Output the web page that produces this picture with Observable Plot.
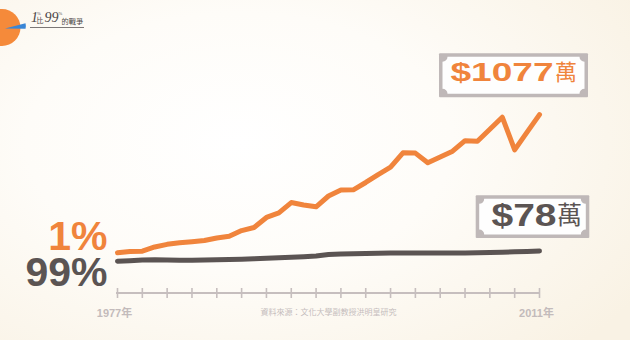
<!DOCTYPE html>
<html><head><meta charset="utf-8">
<script src="https://cdn.jsdelivr.net/npm/d3@7"></script>
<script src="https://cdn.jsdelivr.net/npm/@observablehq/plot@0.6"></script>
<style>
html,body{margin:0;padding:0;width:630px;height:340px;overflow:hidden;}
body{background: radial-gradient(ellipse 75% 85% at 38% 42%, #ffffff 0%, #fefcf8 45%, #f9f2e4 100%);}
#chart svg{display:block;}
</style></head><body><div id="chart"></div>
<script>
const years = [1977,1978,1979,1980,1981,1982,1983,1984,1985,1986,1987,1988,1989,1990,1991,1992,1993,1994,1995,1996,1997,1998,1999,2000,2001,2002,2003,2004,2005,2006,2007,2008,2009,2010,2011];
const top1Income = [65,75,77,108,127,138,146,155,174,186,228,250,324,357,433,415,402,481,525,526,580,638,692,797,795,724,766,809,886,882,970,1058,819,949,1077];
const bottom99Income = [4,7,12,14,12,10,10,12,14,16,18,21,25,29,33,37,42,53,56,58,60,61,63,64,64,64,64,64,64,66,67,70,72,75,78];
const tickYears = [1977,1979,1981,1983,1985,1987,1989,1991,1993,1995,1997,1999,2001,2003,2005,2007,2009,2011];
const axisLabelYears = [1977, 2011];
const seriesLabels = ["1%", "99%"];
const endLabels = ["$1077", "$78"];
const unitLabel = "萬";
const yearSuffix = "年";
const sourceText = "資料來源：文化大學副教授洪明皇研究";
const logoText = ["1", "比", "99", "%", "的戰爭"];

const ORANGE = "#f0843c";
const DARK = "#5b5453";
const GREY = "#c6bebe";

const topRows = years.map((year, i) => ({year, value: top1Income[i]}));
const bottomRows = years.map((year, i) => ({year, value: bottom99Income[i]}));
const n = years.length - 1;

function drawBox(g, cx, cy, l, r, t, b) {
  const bg = "#bfb8b8";
  g.append("rect").attr("x", cx + l).attr("y", cy + t).attr("width", r - l).attr("height", b - t).attr("fill", bg).attr("rx", 1);
  const ins = 3.5, rr = 5;
  const ix = cx + l + ins, iy = cy + t + ins, iw = r - l - 2 * ins, ih = b - t - 2 * ins;
  const x2 = ix + iw, y2 = iy + ih;
  const d = `M${ix + rr},${iy} L${x2 - rr},${iy} A${rr},${rr} 0 0 0 ${x2},${iy + rr} L${x2},${y2 - rr} A${rr},${rr} 0 0 0 ${x2 - rr},${y2} L${ix + rr},${y2} A${rr},${rr} 0 0 0 ${ix},${y2 - rr} L${ix},${iy + rr} A${rr},${rr} 0 0 0 ${ix + rr},${iy} Z`;
  g.append("path").attr("d", d).attr("fill", "#fefefe");
}

function decorations(index, scales, values, dimensions) {
  const {x, y} = scales;
  const g = d3.create("svg:g").attr("text-anchor", "start");
  const yb = dimensions.height - dimensions.marginBottom;
  // axis line
  g.append("line")
    .attr("x1", x(tickYears[0]) - 1).attr("x2", x(tickYears[tickYears.length - 1]) + 1)
    .attr("y1", yb).attr("y2", yb)
    .attr("stroke", GREY).attr("stroke-width", 2);

  // end-value boxes
  const ex = x(years[n]);
  const ey1 = y(top1Income[n]);
  const ey2 = y(bottom99Income[n]);
  drawBox(g, ex, ey1, -100, 49, -60.8, -16.8);
  g.append("text").attr("x", ex - 88.5).attr("y", ey1 - 33)
    .attr("font-family", "Liberation Sans, Arial, sans-serif").attr("font-weight", "bold")
    .attr("font-size", 26).attr("fill", ORANGE)
    .attr("textLength", 103).attr("lengthAdjust", "spacingAndGlyphs")
    .text(endLabels[0]);
  g.append("text").attr("x", ex + 16).attr("y", ey1 - 34.5)
    .attr("font-family", "Noto Sans CJK TC, sans-serif").attr("font-size", 22).attr("fill", ORANGE)
    .text(unitLabel);

  drawBox(g, ex, ey2, -63.3, 50.3, -55.2, -12.5);
  g.append("text").attr("x", ex - 47.5).attr("y", ey2 - 24.2)
    .attr("font-family", "Liberation Sans, Arial, sans-serif").attr("font-weight", "bold")
    .attr("font-size", 32).attr("fill", DARK)
    .attr("textLength", 65).attr("lengthAdjust", "spacingAndGlyphs")
    .text(endLabels[1]);
  g.append("text").attr("x", ex + 18).attr("y", ey2 - 26.5)
    .attr("font-family", "Noto Sans CJK TC, sans-serif").attr("font-size", 25).attr("fill", DARK)
    .text(unitLabel);

  // logo
  const logo = g.append("g");
  logo.append("circle").attr("cx", 2).attr("cy", 27.5).attr("r", 18.5).attr("fill", "#f58a3a");
  logo.append("path").attr("d", "M5,28.5 L25.5,23.3 Q26.3,26 25.5,28.8 Z").attr("fill", "#3a86d6");
  const serif = "Liberation Serif, DejaVu Serif, serif";
  const ink = "#4a4545";
  logo.append("text").attr("x", 31).attr("y", 22).attr("font-family", serif).attr("font-style", "italic")
    .attr("font-size", 14).attr("fill", ink).text(logoText[0]);
  logo.append("text").attr("x", 37).attr("y", 14.5).attr("font-family", serif)
    .attr("font-size", 4.5).attr("fill", ink).text(logoText[3]);
  logo.append("text").attr("x", 36.5).attr("y", 22.5).attr("font-family", "Noto Sans CJK TC, sans-serif")
    .attr("font-size", 7).attr("fill", ink).text(logoText[1]);
  logo.append("text").attr("x", 44.5).attr("y", 22).attr("font-family", serif).attr("font-style", "italic")
    .attr("font-size", 14).attr("fill", ink).text(logoText[2]);
  logo.append("text").attr("x", 58.5).attr("y", 15).attr("font-family", serif)
    .attr("font-size", 4.5).attr("fill", ink).text(logoText[3]);
  logo.append("text").attr("x", 61.5).attr("y", 23.5).attr("font-family", "Noto Sans CJK TC, sans-serif")
    .attr("font-size", 7.2).attr("fill", ink).text(logoText[4]);
  logo.append("line").attr("x1", 30).attr("x2", 84).attr("y1", 27.5).attr("y2", 27.5)
    .attr("stroke", "#5a5555").attr("stroke-width", 0.8);
  return g.node();
}

const chart = Plot.plot({
  width: 630,
  height: 340,
  marginLeft: 117,
  marginRight: 91,
  marginTop: 20,
  marginBottom: 47,
  style: {background: "transparent", fontFamily: "Liberation Sans, Noto Sans CJK TC, sans-serif", overflow: "visible"},
  x: {domain: [years[0], years[n]]},
  y: {domain: [0, 1077], range: [261.2, 114.1], axis: null},
  marks: [
    Plot.axisX({ticks: tickYears, tickSize: 10, dy: -5, tickFormat: () => "", label: null, color: GREY, strokeWidth: 1.6}),
    decorations,
    Plot.line(bottomRows, {x: "year", y: "value", stroke: DARK, strokeWidth: 5, strokeLinejoin: "round"}),
    Plot.line(topRows, {x: "year", y: "value", stroke: ORANGE, strokeWidth: 5, strokeLinejoin: "round"}),
    Plot.text([topRows[0]], {x: "year", y: "value", text: () => seriesLabels[0], textAnchor: "end", lineAnchor: "bottom", dx: -10, dy: -3, fontSize: 41, fontWeight: "bold", fill: ORANGE}),
    Plot.text([bottomRows[0]], {x: "year", y: "value", text: () => seriesLabels[1], textAnchor: "end", lineAnchor: "bottom", dx: -10, dy: 25, fontSize: 41, fontWeight: "bold", fill: DARK}),
    Plot.text(axisLabelYears, {x: d => d, frameAnchor: "bottom", text: d => d + yearSuffix, lineAnchor: "bottom", dx: -3, dy: 23, fontSize: 11, fontWeight: "bold", fill: "#c3bbbb"}),
    Plot.text([sourceText], {frameAnchor: "bottom", text: d => d, lineAnchor: "bottom", dy: 21, fontSize: 8, fill: "#c5bdbd"})
  ]
});
document.getElementById("chart").append(chart);
</script></body></html>
